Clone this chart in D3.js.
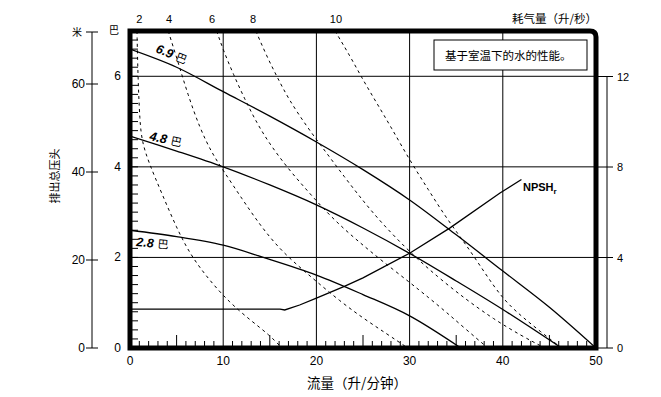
<!DOCTYPE html>
<html>
<head>
<meta charset="utf-8">
<script src="https://cdn.jsdelivr.net/npm/d3@7"></script>
<style>
  body { margin: 0; background: #fff; }
  text { font-family: "Liberation Sans", Arial, sans-serif; }
  .cjk { font-family: "Noto Sans CJK SC", "Liberation Sans", sans-serif; }
</style>
</head>
<body>
<script>
// axes
var flowTicks = [0, 10, 20, 30, 40, 50];
var barTicks = [0, 2, 4, 6];
var meterTicks = [0, 20, 40, 60];
var rightTicks = [0, 4, 8, 12];

// air consumption (L/s) labels along the top
var airLabels = ["2", "4", "6", "8", "10"];
var airLabelFlow = [1.0, 4.2, 8.8, 13.2, 22.1];

// head curves [flow L/min, bar]
var headLabels = ["6.9", "4.8", "2.8"];
var head69 = [[0,6.6],[5,6.2],[10,5.66],[15,5.12],[20,4.55],[25,3.94],[30,3.27],[35,2.5],[40,1.7],[45,0.9],[50,0]];
var head48 = [[0,4.68],[5,4.35],[10,4.0],[15,3.6],[20,3.16],[25,2.65],[30,2.09],[35,1.48],[40,0.85],[46.3,0]];
var head28 = [[0,2.6],[5,2.46],[10,2.27],[14.3,2.0],[20,1.61],[25,1.18],[30,0.71],[35.5,0]];

// NPSHr [flow, right axis]
var npshr = [[0,1.72],[16.1,1.72],[16.6,1.68],[18.2,1.9],[20,2.2],[23,2.72],[25,3.1],[30,4.19],[34.3,5.3],[39.7,6.85],[42,7.45]];

// air consumption curves [flow, bar]
var air2 = [[0.75,7.0],[0.85,6.0],[1.05,5.0],[1.3,4.55],[2.0,4.1],[3.4,3.42],[5.0,2.65],[6.5,2.05],[8.5,1.5],[10.7,1.0],[13,0.6],[15,0.28],[16.3,0]];
var air4 = [[4.1,7.0],[5.1,6.35],[6.2,5.6],[7.5,4.85],[8.8,4.3],[10,3.92],[12,3.3],[14,2.7],[16,2.2],[18,1.82],[20,1.47],[22.5,1.04],[25,0.66],[27.5,0.32],[29.8,0]];
var air6 = [[9.3,7.0],[10,6.58],[11.1,6.04],[12.3,5.5],[13.6,4.97],[15,4.5],[17,3.95],[19,3.48],[21,3.02],[23,2.62],[25,2.27],[27,1.93],[30,1.45],[32,1.12],[34,0.78],[36,0.42],[38.4,0]];
var air8 = [[13.5,7.0],[14.7,6.43],[15.8,5.98],[17,5.5],[19,4.88],[21,4.33],[23,3.78],[25,3.25],[27,2.76],[30,2.12],[33,1.57],[36,1.08],[39,0.64],[42,0.27],[44.5,0]];
var air10 = [[22.0,7.0],[23.6,6.45],[25,5.92],[26.5,5.4],[28,4.88],[30,4.15],[32,3.5],[34,2.85],[36,2.3],[38,1.68],[40,1.08],[42,0.7],[44,0.37],[46.3,0]];

var svg = d3.select("body").append("svg")
  .attr("width", 661)
  .attr("height", 397);

var x = d3.scaleLinear().domain([0, 50]).range([130, 596]);
var yBar = d3.scaleLinear().domain([0, 7]).range([348, 31]);
var yM = d3.scaleLinear().domain([0, 60]).range([348, 84]);
var yR = d3.scaleLinear().domain([0, 12]).range([348, 76.5]);

svg.append("defs").append("clipPath").attr("id", "plot")
  .append("rect").attr("x", 130).attr("y", 31).attr("width", 466).attr("height", 317);

// grid
svg.selectAll(".vg").data(flowTicks.slice(1, -1)).enter().append("line")
  .attr("x1", d => x(d)).attr("x2", d => x(d))
  .attr("y1", 31).attr("y2", 348)
  .attr("stroke", "#000").attr("stroke-width", 1);
svg.selectAll(".hg").data(barTicks.slice(1)).enter().append("line")
  .attr("x1", 130).attr("x2", 596)
  .attr("y1", d => yBar(d)).attr("y2", d => yBar(d))
  .attr("stroke", "#000").attr("stroke-width", 1);

// minor ticks
svg.selectAll(".lt").data(d3.range(1, 35)).enter().append("line")
  .attr("x1", 130).attr("x2", 138)
  .attr("y1", d => yBar(d * 0.2)).attr("y2", d => yBar(d * 0.2))
  .attr("stroke", "#000").attr("stroke-width", 1);
svg.selectAll(".bt").data(d3.range(1, 50).filter(d => d % 10 != 0)).enter().append("line")
  .attr("x1", d => x(d)).attr("x2", d => x(d))
  .attr("y1", 348).attr("y2", d => d % 5 == 0 ? 335 : 341)
  .attr("stroke", "#000").attr("stroke-width", 1);

var plot = svg.append("g").attr("clip-path", "url(#plot)");

var dashLine = d3.line()
  .x(d => x(d[0])).y(d => yBar(d[1]))
  .curve(d3.curveBasis);
var line = d3.line()
  .x(d => x(d[0])).y(d => yBar(d[1]))
  .curve(d3.curveCatmullRom.alpha(0.5));

[air2, air4, air6, air8, air10].forEach(function(c) {
  plot.append("path").datum(c)
    .attr("d", dashLine)
    .attr("fill", "none").attr("stroke", "#000")
    .attr("stroke-width", 1).attr("stroke-dasharray", "3,3.5");
});

[head69, head48, head28].forEach(function(c) {
  plot.append("path").datum(c)
    .attr("d", line)
    .attr("fill", "none").attr("stroke", "#000").attr("stroke-width", 1.3);
});

plot.append("path").datum(npshr)
  .attr("d", d3.line().x(d => x(d[0])).y(d => yR(d[1])))
  .attr("fill", "none").attr("stroke", "#000").attr("stroke-width", 1.3);

// frame
svg.append("path")
  .attr("d", "M130,348 V31 H590 Q596,31 596,37 V348 Z")
  .attr("fill", "none").attr("stroke", "#000").attr("stroke-width", 5);

// bottom axis labels
svg.selectAll(".xl").data(flowTicks).enter().append("text")
  .attr("x", d => x(d)).attr("y", 365)
  .attr("text-anchor", "middle").attr("font-size", 12)
  .text(d => d);
svg.append("text").attr("class", "cjk")
  .attr("x", 357).attr("y", 388).attr("text-anchor", "middle")
  .attr("font-size", 13.5).text("流量（升/分钟）");

// inner bar labels
svg.selectAll(".bl").data(barTicks).enter().append("text")
  .attr("x", 121).attr("y", d => yBar(d) + 4)
  .attr("text-anchor", "end").attr("font-size", 12)
  .text(d => d);
svg.append("text").attr("class", "cjk")
  .attr("x", 114).attr("y", 34).attr("text-anchor", "middle")
  .attr("font-size", 10).text("巴");

// meter axis
svg.append("line").attr("x1", 92).attr("x2", 92)
  .attr("y1", 32).attr("y2", 348).attr("stroke", "#000");
svg.append("line").attr("x1", 86).attr("x2", 98)
  .attr("y1", 32).attr("y2", 32).attr("stroke", "#000");
svg.selectAll(".mt").data(meterTicks).enter().append("line")
  .attr("x1", 86).attr("x2", 98)
  .attr("y1", d => yM(d)).attr("y2", d => yM(d))
  .attr("stroke", "#000");
svg.selectAll(".ml").data(meterTicks).enter().append("text")
  .attr("x", 85).attr("y", d => yM(d) + 4)
  .attr("text-anchor", "end").attr("font-size", 12)
  .text(d => d);
svg.append("text").attr("class", "cjk")
  .attr("x", 77).attr("y", 36).attr("text-anchor", "middle")
  .attr("font-size", 10).text("米");
svg.append("text").attr("class", "cjk")
  .attr("transform", "translate(59,176) rotate(-90)")
  .attr("text-anchor", "middle").attr("font-size", 11)
  .text("排出总压头");

// right axis
svg.append("line").attr("x1", 607).attr("x2", 607)
  .attr("y1", yR(12)).attr("y2", 348).attr("stroke", "#000");
svg.selectAll(".rt").data(rightTicks).enter().append("line")
  .attr("x1", 598).attr("x2", 613)
  .attr("y1", d => yR(d)).attr("y2", d => yR(d))
  .attr("stroke", "#000");
svg.selectAll(".rl").data(rightTicks).enter().append("text")
  .attr("x", 617).attr("y", d => yR(d) + 4)
  .attr("font-size", 11).text(d => d);

// top air consumption labels
svg.selectAll(".al").data(airLabels).enter().append("text")
  .attr("x", (d, i) => x(airLabelFlow[i])).attr("y", 23)
  .attr("text-anchor", "middle").attr("font-size", 11)
  .text(d => d);
svg.append("text").attr("class", "cjk")
  .attr("x", 512).attr("y", 23).attr("font-size", 11.5)
  .text("耗气量（升/秒）");

// note box
svg.append("rect").attr("x", 434).attr("y", 40).attr("width", 153).attr("height", 30)
  .attr("fill", "#fff").attr("stroke", "#000").attr("stroke-width", 1);
svg.append("text").attr("class", "cjk")
  .attr("x", 445).attr("y", 60).attr("font-size", 11.5)
  .text("基于室温下的水的性能。");

// curve labels
var lblPos = [[155, 52, 22], [149, 140, 12], [136, 246, 5]];
headLabels.forEach(function(t, i) {
  var p = lblPos[i];
  var g = svg.append("text")
    .attr("transform", "translate(" + p[0] + "," + p[1] + ") rotate(" + p[2] + ")")
    .attr("font-size", 12.5);
  g.append("tspan").attr("font-weight", "bold").attr("font-style", "italic").text(t);
  g.append("tspan").attr("class", "cjk").attr("font-size", 11).attr("dx", 4).text("巴");
});

var np = svg.append("text").attr("x", 523).attr("y", 191)
  .attr("font-size", 11).attr("font-weight", "bold");
np.append("tspan").text("NPSH");
np.append("tspan").attr("dy", 3).attr("font-size", 8).text("r");
</script>
</body>
</html>
